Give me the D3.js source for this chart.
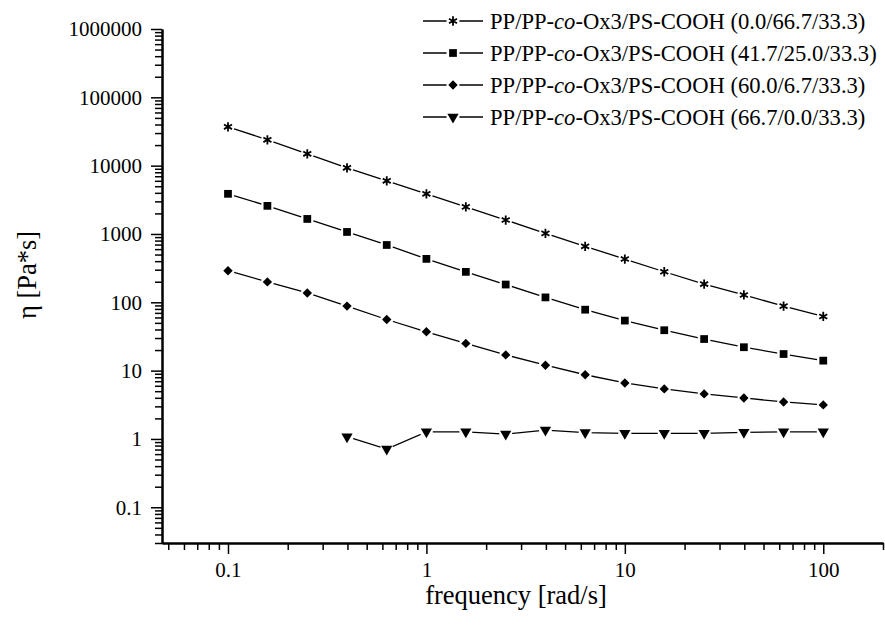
<!DOCTYPE html>
<html>
<head>
<meta charset="utf-8">
<script src="https://cdn.jsdelivr.net/npm/d3@7"></script>
<style>
  body { margin: 0; background: #fff; }
  svg { display: block; font-family: "Liberation Serif", "DejaVu Serif", serif; }
  .axis path.domain { stroke: #000; stroke-width: 2; }
  .axis line { stroke: #000; stroke-width: 1.5; }
  .axis text { fill: #000; font-size: 21px; font-family: "Liberation Serif", serif; }
</style>
</head>
<body>
<div id="chart"></div>
<script>
// frequency [rad/s]
const frequency = [0.1, 0.158, 0.251, 0.398, 0.631, 1, 1.58, 2.51, 3.98, 6.31, 10, 15.8, 25.1, 39.8, 63.1, 100];

// viscosity [Pa*s] per blend
const eta00 = [37000, 23900, 14900, 9300, 6000, 3870, 2490, 1600, 1020, 660, 430, 280, 185, 128, 88, 62];
const eta417 = [3870, 2580, 1660, 1070, 690, 432, 279, 182, 118, 78, 54, 39, 29, 22, 17.5, 14];
const eta600 = [290, 199, 137, 88, 56, 37, 25, 17, 12, 8.7, 6.6, 5.4, 4.56, 3.98, 3.48, 3.15];
const eta667 = [null, null, null, 1.08, 0.71, 1.27, 1.27, 1.18, 1.35, 1.24, 1.21, 1.21, 1.21, 1.25, 1.27, 1.27];

const seriesNames = [
  "(0.0/66.7/33.3)",
  "(41.7/25.0/33.3)",
  "(60.0/6.7/33.3)",
  "(66.7/0.0/33.3)"
];
const seriesValues = [eta00, eta417, eta600, eta667];
const seriesSymbols = ["asterisk", "square", "diamond", "triangle"];

const xTickValues = [0.1, 1, 10, 100];
const yTickValues = [0.1, 1, 10, 100, 1000, 10000, 100000, 1000000];

const width = 885;
const height = 625;

const svg = d3.select("#chart")
  .append("svg")
  .attr("width", width)
  .attr("height", height);

const xScale = d3.scaleLog()
  .domain([0.0465, 200])
  .range([162, 883]);

const yScale = d3.scaleLog()
  .domain([0.03, 1000000])
  .range([543, 29]);

// minor ticks: 2..9 in every decade
function minorTicks(scale) {
  const [a, b] = scale.domain();
  const out = [];
  for (let e = Math.floor(Math.log10(a)); e <= Math.ceil(Math.log10(b)); e++) {
    for (let m = 2; m <= 9; m++) {
      const v = m * Math.pow(10, e);
      if (v >= a && v <= b * 1.001) out.push(v);
    }
  }
  return out;
}

// y axis
svg.append("g")
  .attr("class", "axis")
  .attr("transform", "translate(162,0)")
  .call(d3.axisLeft(yScale).tickValues(minorTicks(yScale)).tickFormat("").tickSize(7).tickSizeOuter(0));

svg.append("g")
  .attr("class", "axis")
  .attr("transform", "translate(162,0)")
  .call(d3.axisLeft(yScale).tickValues(yTickValues).tickSize(11).tickSizeOuter(0).tickPadding(9)
    .tickFormat((d) => d < 1 ? String(d) : d3.format("d")(d)));

// x axis
svg.append("g")
  .attr("class", "axis")
  .attr("transform", "translate(0,543)")
  .call(d3.axisBottom(xScale).tickValues(minorTicks(xScale)).tickFormat("").tickSize(7).tickSizeOuter(0));

svg.append("g")
  .attr("class", "axis")
  .attr("transform", "translate(0,543)")
  .call(d3.axisBottom(xScale).tickValues(xTickValues).tickSize(11).tickSizeOuter(0).tickPadding(8)
    .tickFormat((d) => String(d)));

// axis titles
svg.append("text")
  .attr("x", 516)
  .attr("y", 604)
  .attr("text-anchor", "middle")
  .attr("font-size", 26.5)
  .text("frequency [rad/s]");

svg.append("text")
  .attr("transform", "translate(36,275) rotate(-90)")
  .attr("text-anchor", "middle")
  .attr("font-size", 26.5)
  .text("η [Pa*s]");

// markers
function symbolPath(kind) {
  if (kind === "asterisk") return d3.symbol(d3.symbolAsterisk, 60)();
  if (kind === "square") return d3.symbol(d3.symbolSquare, 60)();
  if (kind === "diamond") return d3.symbol(d3.symbolSquare, 44)();
  return d3.symbol(d3.symbolTriangle, 55)();
}

function drawMarker(g, kind, x, y) {
  g.append("circle")
    .attr("cx", x).attr("cy", y).attr("r", 6.5)
    .attr("fill", "#fff");
  let rot = "";
  if (kind === "triangle") rot = " rotate(180)";
  if (kind === "diamond") rot = " rotate(45)";
  const p = g.append("path")
    .attr("d", symbolPath(kind))
    .attr("transform", `translate(${x},${y})` + rot);
  if (kind === "asterisk") {
    p.attr("fill", "none").attr("stroke", "#000").attr("stroke-width", 1.8);
  } else {
    p.attr("fill", "#000");
  }
}

const line = d3.line()
  .defined((d) => d[1] != null)
  .x((d) => xScale(d[0]))
  .y((d) => yScale(d[1]));

const plot = svg.append("g");

seriesValues.forEach((vals, i) => {
  const pts = frequency.map((f, j) => [f, vals[j]]);
  plot.append("path")
    .attr("d", line(pts))
    .attr("fill", "none")
    .attr("stroke", "#000")
    .attr("stroke-width", 1.3);
  const mg = plot.append("g");
  pts.filter((d) => d[1] != null).forEach((d) => {
    drawMarker(mg, seriesSymbols[i], xScale(d[0]), yScale(d[1]));
  });
});

// legend
const legend = svg.append("g");
seriesNames.forEach((name, i) => {
  const y = 21 + i * 32;
  const row = legend.append("g");
  row.append("line")
    .attr("x1", 423).attr("x2", 483)
    .attr("y1", y).attr("y2", y)
    .attr("stroke", "#000").attr("stroke-width", 1.3);
  drawMarker(row, seriesSymbols[i], 453, y);
  const t = row.append("text")
    .attr("x", 490)
    .attr("y", y + 7.5)
    .attr("font-size", 22.6);
  t.append("tspan").text("PP/PP-");
  t.append("tspan").attr("font-style", "italic").text("co");
  t.append("tspan").text("-Ox3/PS-COOH " + name);
});
</script>
</body>
</html>
